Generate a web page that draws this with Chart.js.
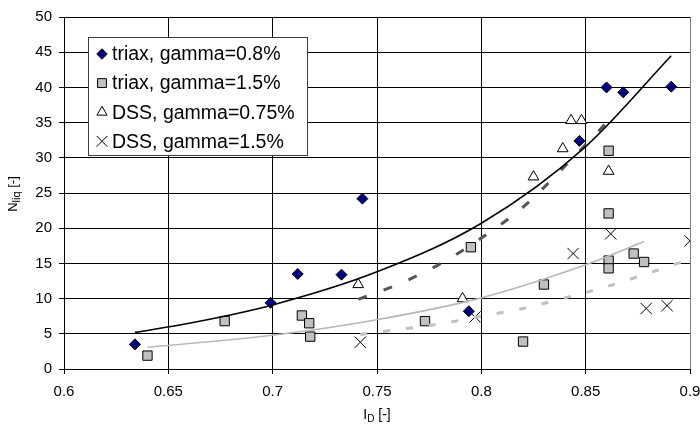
<!DOCTYPE html>
<html lang="en">
  <head>
    <meta charset="UTF-8" />
    <title>Nliq vs ID</title>
    <script src="https://cdn.jsdelivr.net/npm/chart.js"></script>
    <style>
      html, body { margin: 0; padding: 0; background: #fff; }
      .chart-container { position: relative; width: 700px; height: 430px; }
    </style>
  </head>
  <body>
    <div class="chart-container">
      <canvas id="nliqChart" width="700" height="430"></canvas>
    </div>

    <script>
      const triax08X = [0.634, 0.699, 0.712, 0.733, 0.743, 0.794, 0.847, 0.860, 0.868, 0.891];
      const triax08Y = [3.5, 9.4, 13.5, 13.4, 24.2, 8.2, 32.4, 40.0, 39.3, 40.1];

      const triax15X = [0.640, 0.677, 0.714, 0.7175, 0.718, 0.773, 0.795, 0.820, 0.830, 0.861, 0.861, 0.861, 0.861, 0.873, 0.878];
      const triax15Y = [1.9, 6.8, 7.6, 6.5, 4.6, 6.8, 17.3, 3.9, 12.0, 31.0, 22.1, 15.4, 14.3, 16.4, 15.2];

      const dss075X = [0.741, 0.791, 0.825, 0.839, 0.843, 0.848, 0.861];
      const dss075Y = [12.0, 10.0, 27.3, 31.3, 35.3, 35.3, 28.1];

      const dss15X = [0.742, 0.797, 0.844, 0.862, 0.879, 0.889, 0.900];
      const dss15Y = [3.8, 7.4, 16.4, 19.2, 8.6, 9.0, 18.2];

      // Trend lines (exponential fits), read at a few x positions
      const trendTriax08X = [0.634, 0.66, 0.70, 0.75, 0.80, 0.85, 0.891];
      const trendTriax08Y = [5.2, 6.5, 9.1, 13.8, 20.7, 31.6, 44.5];

      const trendTriax15X = [0.640, 0.70, 0.75, 0.80, 0.85, 0.878];
      const trendTriax15Y = [3.1, 4.8, 7.0, 10.1, 14.8, 18.1];

      const trendDss075X = [0.741, 0.76, 0.78, 0.80, 0.82, 0.84, 0.861];
      const trendDss075Y = [9.9, 12.0, 14.9, 18.6, 23.0, 28.8, 35.3];

      const trendDss15X = [0.742, 0.76, 0.78, 0.80, 0.82, 0.84, 0.86, 0.88, 0.90];
      const trendDss15Y = [4.9, 5.6, 6.4, 7.5, 8.6, 10.1, 11.7, 13.6, 15.6];

      // Axis ticks
      const xTickValues = [0.6, 0.65, 0.7, 0.75, 0.8, 0.85, 0.9];
      const xTickLabels = ["0.6", "0.65", "0.7", "0.75", "0.8", "0.85", "0.9"];
      const yTickValues = [0, 5, 10, 15, 20, 25, 30, 35, 40, 45, 50];
      const yTickLabels = ["0", "5", "10", "15", "20", "25", "30", "35", "40", "45", "50"];

      // Legend entries
      const legendLabels = ["triax, gamma=0.8%", "triax, gamma=1.5%", "DSS, gamma=0.75%", "DSS, gamma=1.5%"];

      const FONT = "Arial, 'Liberation Sans', sans-serif";

      function toPoints(xs, ys) {
        return xs.map((x, i) => ({ x: x, y: ys[i] }));
      }

      const markerStyles = [
        { pointStyle: "rectRot", radius: 5.5, fill: "#000080", stroke: "#000000" },
        { pointStyle: "rect", radius: 6.6, fill: "#c0c0c0", stroke: "#000000" },
        { pointStyle: "triangle", radius: 6.2, fill: "#ffffff", stroke: "#000000" },
        { pointStyle: "crossRot", radius: 8, fill: "#000000", stroke: "#000000" }
      ];

      function markerSet(label, xs, ys, m) {
        return {
          label: label,
          data: toPoints(xs, ys),
          showLine: false,
          pointStyle: m.pointStyle,
          pointRadius: m.radius,
          pointHoverRadius: m.radius,
          backgroundColor: m.fill,
          borderColor: m.stroke,
          borderWidth: 1,
          order: 1
        };
      }

      function trendSet(xs, ys, color, width, dash) {
        return {
          data: toPoints(xs, ys),
          showLine: true,
          pointRadius: 0,
          borderColor: color,
          borderWidth: width,
          borderDash: dash,
          cubicInterpolationMode: "monotone",
          fill: false,
          order: 0
        };
      }

      // Draws a string made of normal and subscript parts, centred on x
      function drawSubText(ctx, parts, x, y, size, subSize) {
        let total = 0;
        parts.forEach(p => {
          ctx.font = (p.sub ? subSize : size) + "px " + FONT;
          total += ctx.measureText(p.t).width;
        });
        let cx = x - total / 2;
        parts.forEach(p => {
          ctx.font = (p.sub ? subSize : size) + "px " + FONT;
          ctx.fillText(p.t, cx, p.sub ? y + 3 : y);
          cx += ctx.measureText(p.t).width;
        });
      }

      // Axis titles with subscripts and the boxed legend
      const decorations = {
        id: "decorations",
        afterDraw(chart) {
          const ctx = chart.ctx;
          const area = chart.chartArea;
          ctx.save();
          ctx.fillStyle = "#000";
          ctx.textBaseline = "alphabetic";
          ctx.textAlign = "left";

          drawSubText(ctx, [{ t: "I" }, { t: "D", sub: true }, { t: " [-]" }],
            (area.left + area.right) / 2, 419, 14, 10);

          ctx.save();
          ctx.translate(17, 194);
          ctx.rotate(-Math.PI / 2);
          drawSubText(ctx, [{ t: "N" }, { t: "liq", sub: true }, { t: " [-]" }], 0, 0, 13, 11);
          ctx.restore();

          // legend box
          const bx = 88, by = 37, bw = 219, bh = 118;
          ctx.fillStyle = "#ffffff";
          ctx.fillRect(bx, by, bw, bh);
          ctx.strokeStyle = "#404040";
          ctx.lineWidth = 1;
          ctx.strokeRect(bx + 0.5, by + 0.5, bw, bh);

          ctx.font = "19.5px " + FONT;
          ctx.textBaseline = "middle";
          legendLabels.forEach((label, i) => {
            const m = markerStyles[i];
            const cy = 54 + i * 29.1;
            ctx.fillStyle = m.fill;
            ctx.strokeStyle = m.stroke;
            ctx.lineWidth = 1;
            Chart.helpers.drawPoint(ctx, {
              pointStyle: m.pointStyle,
              radius: m.radius * 0.95,
              rotation: 0,
              borderWidth: 1
            }, 102, cy);
            ctx.fillStyle = "#000";
            ctx.font = "19.5px " + FONT;
            ctx.fillText(label, 112, cy + 1);
          });
          ctx.restore();
        }
      };

      const ctx = document.getElementById("nliqChart").getContext("2d");
      new Chart(ctx, {
        type: "scatter",
        data: {
          datasets: [
            trendSet(trendTriax08X, trendTriax08Y, "#000000", 1.6, []),
            trendSet(trendTriax15X, trendTriax15Y, "#b8b8b8", 1.6, []),
            trendSet(trendDss075X, trendDss075Y, "#555555", 3, [9, 18]),
            trendSet(trendDss15X, trendDss15Y, "#c0c0c0", 3, [7, 16]),
            markerSet(legendLabels[0], triax08X, triax08Y, markerStyles[0]),
            markerSet(legendLabels[1], triax15X, triax15Y, markerStyles[1]),
            markerSet(legendLabels[2], dss075X, dss075Y, markerStyles[2]),
            markerSet(legendLabels[3], dss15X, dss15Y, markerStyles[3])
          ]
        },
        options: {
          responsive: false,
          animation: false,
          events: [],
          devicePixelRatio: 1,
          layout: { autoPadding: false, padding: { top: 17, right: 10, left: 0, bottom: 0 } },
          plugins: {
            legend: { display: false },
            tooltip: { enabled: false },
            title: { display: false }
          },
          scales: {
            x: {
              type: "linear",
              min: 0.6,
              max: 0.9,
              afterBuildTicks: scale => {
                scale.ticks = xTickValues.map(v => ({ value: v }));
              },
              afterFit: scale => {
                scale.height = 61;
                scale.paddingLeft = 0;
                scale.paddingRight = 0;
              },
              ticks: {
                callback: (v, i) => xTickLabels[i],
                color: "#000",
                padding: 9,
                maxRotation: 0,
                font: { family: FONT, size: 15 }
              },
              grid: {
                color: c => (c.tick && c.tick.value === 0.9 ? "#808080" : "#000000"),
                tickColor: "#000000",
                lineWidth: 1,
                drawTicks: true,
                tickLength: 5
              },
              border: { display: true, color: "#000", width: 1 }
            },
            y: {
              type: "linear",
              min: 0,
              max: 50,
              afterBuildTicks: scale => {
                scale.ticks = yTickValues.map(v => ({ value: v }));
              },
              afterFit: scale => {
                scale.width = 64;
                scale.paddingTop = 0;
                scale.paddingBottom = 0;
              },
              ticks: {
                callback: (v, i) => yTickLabels[i],
                color: "#000",
                padding: 7,
                font: { family: FONT, size: 15 }
              },
              grid: {
                color: "#000000",
                lineWidth: 1,
                drawTicks: true,
                tickLength: 5
              },
              border: { display: true, color: "#000", width: 1 }
            }
          }
        },
        plugins: [decorations]
      });
    </script>
  </body>
</html>
